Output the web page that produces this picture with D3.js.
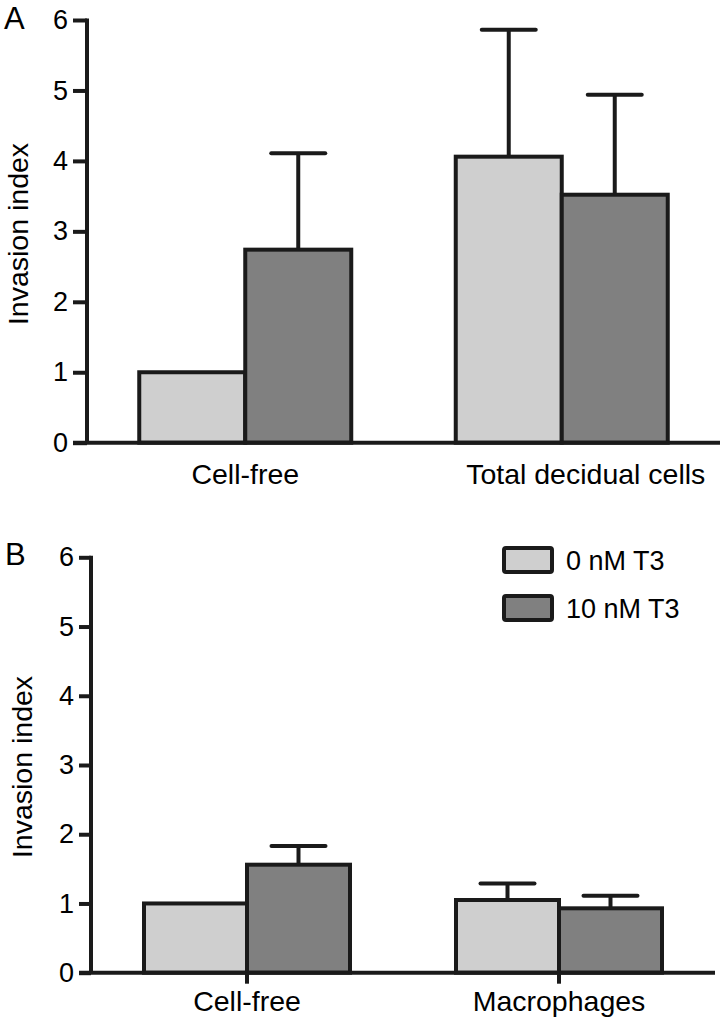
<!DOCTYPE html>
<html>
<head>
<meta charset="utf-8">
<script src="https://cdn.jsdelivr.net/npm/d3@7"></script>
<style>
  html, body { margin: 0; padding: 0; background: #fff; }
  svg { display: block; }
  text { font-family: "Liberation Sans", Arial, sans-serif; fill: #000; }
</style>
</head>
<body>
<svg id="chart" width="723" height="1021"></svg>
<script>
// ---- Data ----
const seriesNames = ["0 nM T3", "10 nM T3"];
const seriesColors = ["#cfcfcf", "#808080"];
const yTicks = [0, 1, 2, 3, 4, 5, 6];

const catsA = ["Cell-free", "Total decidual cells"];
const meanA0 = [1.0, 4.06];
const semA0 = [0, 1.80];
const meanA10 = [2.74, 3.52];
const semA10 = [1.37, 1.42];

const catsB = ["Cell-free", "Macrophages"];
const meanB0 = [1.0, 1.05];
const semB0 = [0, 0.24];
const meanB10 = [1.56, 0.93];
const semB10 = [0.27, 0.18];

const svg = d3.select("#chart");
const INK = "#1a1a1a";
const SW = 4;

function panel(opts) {
  const g = svg.append("g");
  const y = d3.scaleLinear().domain([0, 6]).range([opts.y0, opts.y6]);
  const x = d3.scaleBand().domain(opts.cats).range([opts.axX, opts.axEnd]).padding(0);
  const sub = d3.scaleBand().domain(seriesNames).range([0, 2 * opts.barW]);

  const rows = [];
  opts.cats.forEach((c, i) => {
    rows.push({ cat: c, s: 0, v: opts.m0[i], e: opts.s0[i] });
    rows.push({ cat: c, s: 1, v: opts.m1[i], e: opts.s1[i] });
  });
  const bx = d => x(d.cat) + x.bandwidth() / 2 - opts.barW + sub(seriesNames[d.s]);

  const eb = rows.filter(d => d.e > 0);
  g.selectAll(".err").data(eb).join("line")
    .attr("x1", d => bx(d) + opts.barW / 2).attr("x2", d => bx(d) + opts.barW / 2)
    .attr("y1", d => y(d.v)).attr("y2", d => y(d.v + d.e))
    .attr("stroke", INK).attr("stroke-width", SW);
  g.selectAll(".cap").data(eb).join("line")
    .attr("x1", d => bx(d) + opts.barW / 2 - opts.cap).attr("x2", d => bx(d) + opts.barW / 2 + opts.cap)
    .attr("y1", d => y(d.v + d.e)).attr("y2", d => y(d.v + d.e))
    .attr("stroke", INK).attr("stroke-width", SW).attr("stroke-linecap", "round");

  g.selectAll(".bar").data(rows).join("rect")
    .attr("x", bx).attr("width", opts.barW)
    .attr("y", d => y(d.v)).attr("height", d => y(0) - y(d.v))
    .attr("fill", d => seriesColors[d.s])
    .attr("stroke", INK).attr("stroke-width", SW);

  const ya = g.append("g").attr("transform", `translate(${opts.axX},0)`)
    .call(d3.axisLeft(y).tickValues(yTicks).tickFormat(d3.format("d")).tickSize(opts.tick).tickPadding(5));
  ya.select(".domain").attr("stroke", INK).attr("stroke-width", SW)
    .attr("d", `M0,${opts.y6 - 1.5}V${opts.y0}`);
  ya.selectAll(".tick line").attr("stroke", INK).attr("stroke-width", SW);
  ya.selectAll(".tick text").attr("font-size", 27).attr("fill", "#000")
    .attr("font-family", "Liberation Sans, Arial, sans-serif");

  const xa = g.append("g").attr("transform", `translate(0,${opts.y0})`)
    .call(d3.axisBottom(x).tickSize(opts.xTick).tickPadding(opts.xPad));
  xa.select(".domain").attr("stroke", INK).attr("stroke-width", SW)
    .attr("d", `M${opts.axX - opts.tick},0H${opts.axEnd}`);
  xa.selectAll(".tick line").attr("stroke", INK).attr("stroke-width", SW);
  xa.selectAll(".tick text").attr("font-size", 28.5).attr("fill", "#000")
    .attr("font-family", "Liberation Sans, Arial, sans-serif")
    .attr("dy", "0.71em")
    .attr("dx", (d, i) => opts.labelDx[i]);

  g.append("text")
    .attr("transform", `translate(${opts.ylabX},${opts.ylabY}) rotate(-90)`)
    .attr("text-anchor", "middle").attr("font-size", 28.5)
    .text("Invasion index");

  g.append("text").attr("x", opts.letterX).attr("y", opts.letterY)
    .attr("font-size", 31).text(opts.letter);
  return { g, x, y };
}

panel({
  cats: catsA, m0: meanA0, s0: semA0, m1: meanA10, s1: semA10,
  y0: 442.7, y6: 20, axX: 87, axEnd: 720, barW: 106, cap: 27,
  tick: 14, xTick: 0, xPad: 21, labelDx: [0, 24],
  ylabX: 28, ylabY: 234, letter: "A", letterX: 4, letterY: 29
});

panel({
  cats: catsB, m0: meanB0, s0: semB0, m1: meanB10, s1: semB10,
  y0: 972.7, y6: 557.3, axX: 91, axEnd: 715, barW: 103, cap: 27,
  tick: 12, xTick: 11, xPad: 7, labelDx: [0, 0],
  ylabX: 32, ylabY: 767, letter: "B", letterX: 5, letterY: 565
});

const leg = svg.append("g");
seriesNames.forEach((s, i) => {
  const yy = 548 + i * 48;
  leg.append("rect").attr("x", 504).attr("y", yy).attr("width", 48).attr("height", 24)
    .attr("rx", 2).attr("fill", seriesColors[i]).attr("stroke", INK).attr("stroke-width", SW);
  leg.append("text").attr("x", 566).attr("y", yy + 12).attr("dy", "0.36em")
    .attr("font-size", 27).text(s);
});
</script>
</body>
</html>
